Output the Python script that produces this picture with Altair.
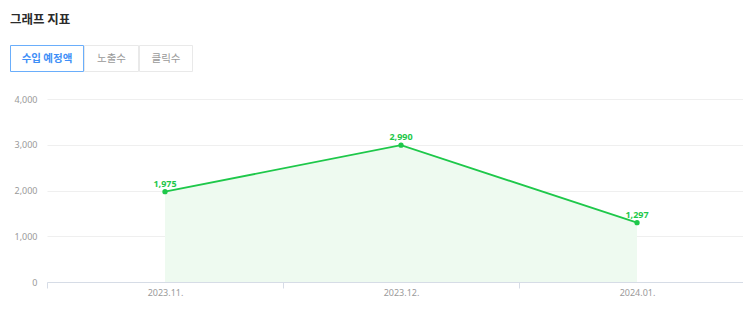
import altair as alt
import pandas as pd

months = ["2023.11.", "2023.12.", "2024.01."]
values = [1975, 2990, 1297]
title_text = ["그래프 지표"]
tabs = ["수입 예정액", "노출수", "클릭수"]

df = pd.DataFrame({"idx": list(range(len(months))), "month": months, "value": values})

KFONT = "Noto Sans CJK KR"
NFONT = "Noto Sans"
GREEN = "#1ec84a"

label_expr = " : ".join(
    [f"datum.value == {i} ? '{m}'" for i, m in enumerate(months)] + ["''"]
)

x_enc = alt.X(
    "idx:Q",
    scale=alt.Scale(domain=[-0.5, 2.449], nice=False, zero=False),
    axis=alt.Axis(
        values=[-0.5, 0, 0.5, 1, 1.5, 2],
        labelExpr=label_expr,
        title=None,
        grid=False,
        domainColor="#d6dce6",
        tickColor="#d6dce6",
        tickSize=6,
        tickOpacity=alt.condition("datum.value % 1 != 0", alt.value(1), alt.value(0)),
        labelColor="#9a9a9a",
        labelFontSize=9,
        labelFont=NFONT,
        labelPadding=0,
        labelFlush=False,
        labelOverlap=False,
    ),
)
y_enc = alt.Y(
    "value:Q",
    scale=alt.Scale(domain=[0, 4000], nice=False),
    axis=alt.Axis(
        values=[0, 1000, 2000, 3000, 4000],
        format=",.0f",
        title=None,
        domain=False,
        ticks=False,
        gridColor="#efefef",
        labelColor="#9a9a9a",
        labelFontSize=9,
        labelFont=NFONT,
        labelPadding=10,
    ),
)

base = alt.Chart(df)
area = base.mark_area(color="#eefaf0", opacity=1).encode(x=x_enc, y=y_enc)
line = base.mark_line(color=GREEN, strokeWidth=1.8).encode(x=x_enc, y=y_enc)
pts = base.mark_point(filled=True, color=GREEN, size=28, opacity=1).encode(x=x_enc, y=y_enc)
lbl = base.mark_text(
    color=GREEN, fontSize=9, fontWeight="bold", font=NFONT, dy=-8, baseline="middle"
).encode(x=x_enc, y=y_enc, text=alt.Text("value:Q", format=",.0f"))

tdf = pd.DataFrame({"t": title_text})
title = alt.Chart(tdf).mark_text(
    align="left", baseline="middle", fontSize=12.5, fontWeight="bold", font=KFONT, color="#2b2b2b"
).encode(x=alt.value(-37), y=alt.value(-79.5), text="t:N")

layers = [area, line, pts, lbl, title]

# tab buttons (pixel layout relative to plot origin)
bounds = [(-36.5, 36.5), (37.5, 91.5), (92.5, 145.5)]
for i, (name, (x0, x1)) in enumerate(zip(tabs, bounds)):
    sel = i == 0
    rect = alt.Chart(pd.DataFrame({"t": [name]})).mark_rect(
        fill="white", stroke="#6aaefb" if sel else "#e9e9e9", strokeWidth=1
    ).encode(x=alt.value(x0), x2=alt.value(x1), y=alt.value(-53.5), y2=alt.value(-27.5))
    txt = alt.Chart(pd.DataFrame({"t": [name]})).mark_text(
        align="center", baseline="middle", fontSize=10.5, font=KFONT,
        color="#3f8ff7" if sel else "#9a9a9a", fontWeight="bold" if sel else "normal",
    ).encode(x=alt.value((x0 + x1) / 2), y=alt.value(-40.5), text="t:N")
    layers += [rect, txt]

chart = alt.layer(*layers).properties(
    width=696,
    height=183,
    autosize=alt.AutoSizeParams(type="none"),
    padding={"left": 47, "top": 99, "right": 0, "bottom": 34},
    background="white",
).configure_view(stroke=None)

chart.save("out.html", embed_options={"renderer": "svg", "actions": False})
